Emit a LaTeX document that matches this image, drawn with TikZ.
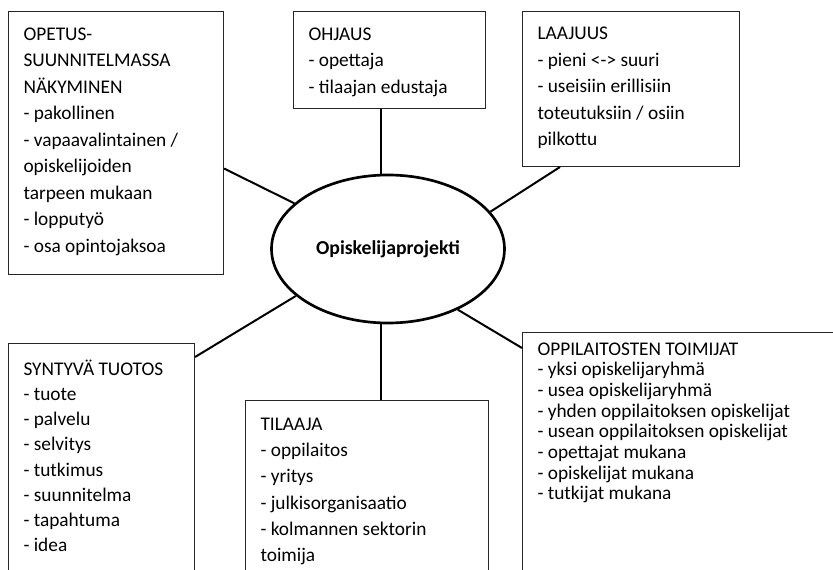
\documentclass[tikz,border=0pt]{standalone}
\usepackage{fontspec}
\setmainfont{Carlito}
\usetikzlibrary{shapes.geometric,calc}

\tikzset{
  box/.style={draw=black!85, line width=0.8pt, anchor=north west, align=flush left,
    inner xsep=11.25pt, inner ysep=6pt, text height=15.5pt},
  link/.style={line width=1.5pt}
}

\begin{document}
\begin{tikzpicture}[x=0.75pt,y=-0.75pt,font=\fontsize{14.5pt}{19.9pt}\selectfont]
  \path[use as bounding box] (0,0) rectangle (833,570);
  \clip (0,0) rectangle (833,570);

  % central ellipse
  \node[ellipse, draw, line width=2pt, minimum width=174.75pt, minimum height=111pt, inner sep=0pt,
    font=\fontsize{14.8pt}{18pt}\selectfont\bfseries]
    (proj) at (388,249) {Opiskelijaprojekti};

  % top row
  \node[box, text width=138.75pt, text depth=169.75pt] (opetus) at (8,11)
    {OPETUS-\\SUUNNITELMASSA\\NÄKYMINEN\\- pakollinen\\- vapaavalintainen /\\opiskelijoiden\\tarpeen mukaan\\- lopputyö\\- osa opintojaksoa};
  \node[box, text width=121.5pt, text depth=45.25pt] (ohjaus) at (293,11)
    {OHJAUS\\- opettaja\\- tilaajan edustaja};
  \node[box, text width=140.25pt, text height=15.2pt, text depth=89pt] (laajuus) at (522,11)
    {LAAJUUS\\- pieni <-> suuri\\- useisiin erillisiin\\toteutuksiin / osiin\\pilkottu};

  % bottom row
  \node[box, text width=117pt, text height=17.8pt, text depth=250pt,
    font=\fontsize{14.5pt}{18.9pt}\selectfont] (syntyva) at (8,343)
    {SYNTYVÄ TUOTOS\\- tuote\\- palvelu\\- selvitys\\- tutkimus\\- suunnitelma\\- tapahtuma\\- idea};
  \node[box, text width=159.75pt, text height=16.3pt, text depth=250pt,
    font=\fontsize{14.5pt}{19.7pt}\selectfont] (tilaaja) at (245,400)
    {TILAAJA\\- oppilaitos\\- yritys\\- julkisorganisaatio\\- kolmannen sektorin\\toimija};
  \node[box, text width=217.5pt, text height=11pt, text depth=250pt,
    font=\fontsize{14.5pt}{15.5pt}\selectfont] (oppilaitos) at (522,332)
    {OPPILAITOSTEN TOIMIJAT\\- yksi opiskelijaryhmä\\- usea opiskelijaryhmä\\- yhden oppilaitoksen opiskelijat\\- usean oppilaitoksen opiskelijat\\- opettajat mukana\\- opiskelijat mukana\\- tutkijat mukana};

  % connectors
  \draw[link] ($(opetus.east)+(0,25.5)$) -- (proj.154);
  \draw[link] (proj.95) -- (proj.95 |- ohjaus.south);
  \draw[link] ($(laajuus.south west)+(38,0)$) -- (proj.20);
  \draw[link] ($(syntyva.north east)+(0,14)$) -- (proj.207);
  \draw[link] (proj.265) -- (proj.265 |- tilaaja.north);
  \draw[link] (proj.-41) -- ($(oppilaitos.north west)+(0,16)$);
\end{tikzpicture}
\end{document}
